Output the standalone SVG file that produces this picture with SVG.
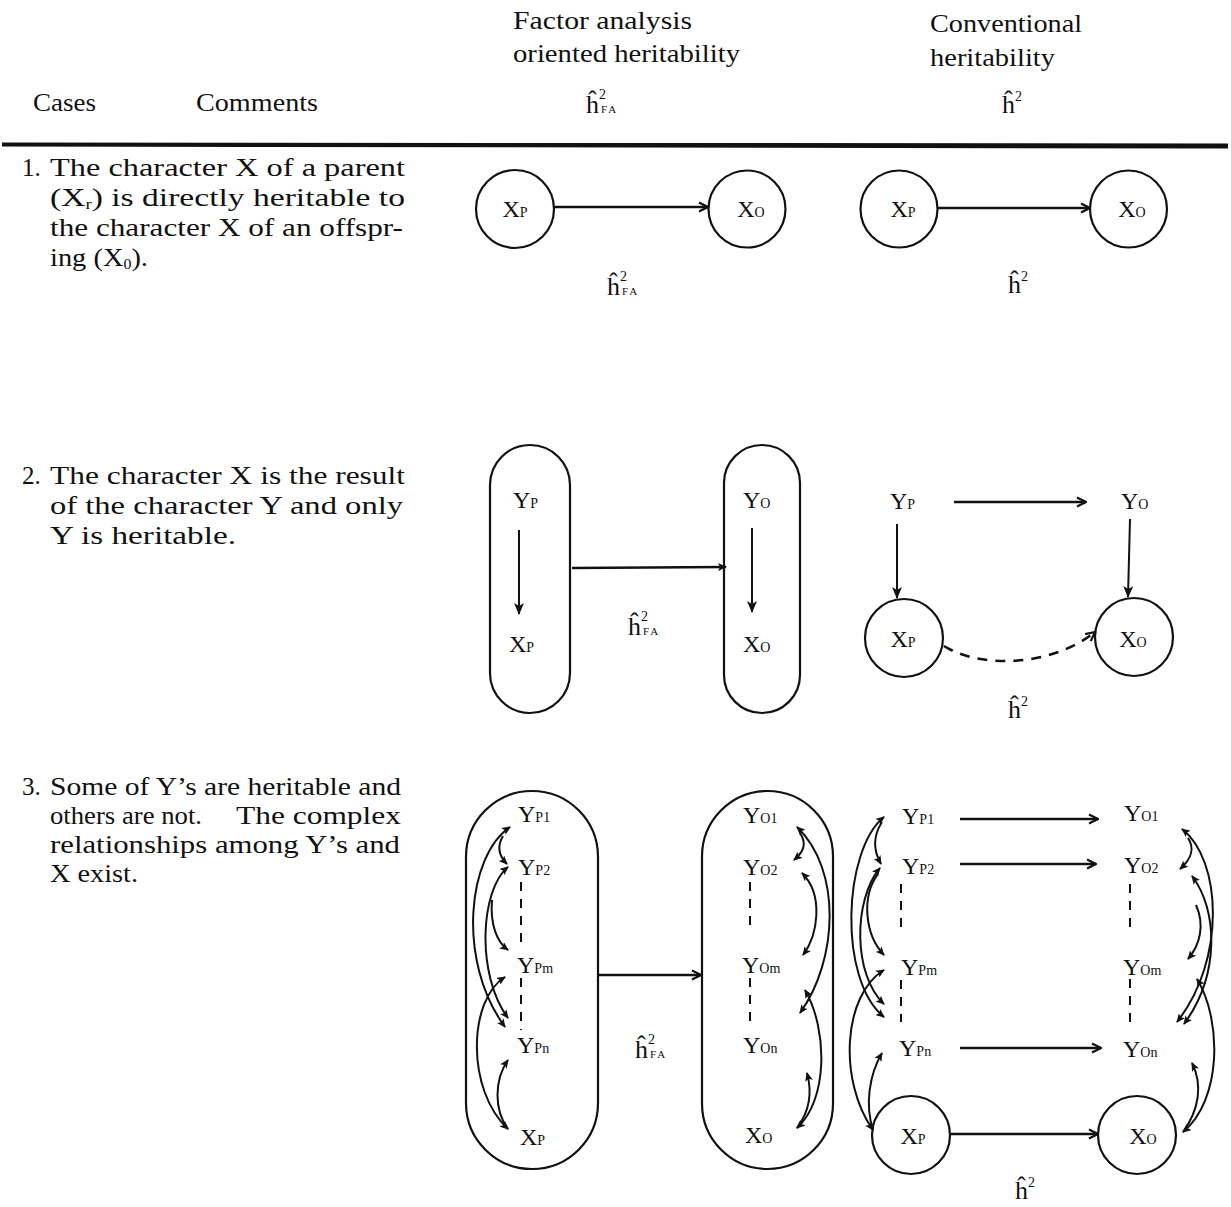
<svg xmlns="http://www.w3.org/2000/svg" width="1231" height="1207" viewBox="0 0 1231 1207">
<style>
.t{font-family:"Liberation Serif","Times New Roman",serif;fill:#111}
.hd{font-size:26px}
.cm{font-size:25px}
.nd{font-size:24px}
.sb{font-size:14px}
.h{font-size:26px}
.s2{font-size:14px}
.fa{font-size:11px;letter-spacing:2px}
.ln{stroke:#111;stroke-width:2.4;fill:none}
.cv{stroke:#111;stroke-width:2;fill:none}
.dl{stroke:#111;stroke-width:2;fill:none;stroke-dasharray:9 8}
.dc{stroke:#111;stroke-width:2.6;fill:none;stroke-dasharray:10 8}
.shape{fill:none;stroke:#111;stroke-width:2.2}
</style>
<defs>
<marker id="open" viewBox="0 0 12 12" refX="11" refY="6" markerWidth="12" markerHeight="12" markerUnits="userSpaceOnUse" orient="auto"><path d="M2,1.5 L11,6 L2,10.5" fill="none" stroke="#111" stroke-width="2.2"/></marker>
<marker id="fill" viewBox="0 0 12 12" refX="11" refY="6" markerWidth="12" markerHeight="12" markerUnits="userSpaceOnUse" orient="auto"><path d="M0,1 L12,6 L0,11 L3,6 z" fill="#111"/></marker>
<marker id="sm" viewBox="0 0 9 8" refX="8" refY="4" markerWidth="9" markerHeight="8" markerUnits="userSpaceOnUse" orient="auto-start-reverse"><path d="M0,0 L9,4 L0,8 L2,4 z" fill="#111"/></marker>
</defs>
<rect width="1231" height="1207" fill="#fff"/>

<g id="header" class="t">
<text class="hd" x="513" y="29" textLength="179" lengthAdjust="spacingAndGlyphs">Factor analysis</text>
<text class="hd" x="513" y="62" textLength="227" lengthAdjust="spacingAndGlyphs">oriented heritability</text>
<text class="hd" x="930" y="32" textLength="152" lengthAdjust="spacingAndGlyphs">Conventional</text>
<text class="hd" x="930" y="66" textLength="125" lengthAdjust="spacingAndGlyphs">heritability</text>
<text class="hd" x="33" y="111" textLength="63" lengthAdjust="spacingAndGlyphs">Cases</text>
<text class="hd" x="196" y="111" textLength="122" lengthAdjust="spacingAndGlyphs">Comments</text>
<text x="586" y="113"><tspan class="h">ĥ</tspan><tspan class="s2" dy="-14">2</tspan><tspan class="fa" x="601" dy="14">FA</tspan></text>
<text x="1002" y="113"><tspan class="h">ĥ</tspan><tspan class="s2" dy="-12">2</tspan></text>
</g>
<polygon points="2,142.5 1228,143.5 1228,148.5 2,146.5" fill="#111"/>

<g id="comments" class="t cm">
<text x="22" y="176">1.</text>
<text x="50" y="176" textLength="355" lengthAdjust="spacingAndGlyphs">The character X of a parent</text>
<text x="50" y="206" textLength="355" lengthAdjust="spacingAndGlyphs">(X<tspan class="sb" dy="3">r</tspan><tspan dy="-3">) is directly heritable to</tspan></text>
<text x="50" y="236" textLength="353" lengthAdjust="spacingAndGlyphs">the character X of an offspr-</text>
<text x="50" y="266" textLength="98" lengthAdjust="spacingAndGlyphs">ing (X<tspan class="sb" dy="3">0</tspan><tspan dy="-3">).</tspan></text>

<text x="22" y="484">2.</text>
<text x="50" y="484" textLength="355" lengthAdjust="spacingAndGlyphs">The character X is the result</text>
<text x="50" y="514" textLength="353" lengthAdjust="spacingAndGlyphs">of the character Y and only</text>
<text x="50" y="544" textLength="186" lengthAdjust="spacingAndGlyphs">Y is heritable.</text>

<text x="22" y="795">3.</text>
<text x="50" y="795" textLength="351" lengthAdjust="spacingAndGlyphs">Some of Y’s are heritable and</text>
<text x="50" y="824" textLength="152" lengthAdjust="spacingAndGlyphs">others are not.</text>
<text x="236" y="824" textLength="165" lengthAdjust="spacingAndGlyphs">The complex</text>
<text x="50" y="853" textLength="350" lengthAdjust="spacingAndGlyphs">relationships among Y’s and</text>
<text x="50" y="882" textLength="88" lengthAdjust="spacingAndGlyphs">X exist.</text>
</g>

<!-- Case 1 -->
<g id="c1-fa-xp"><circle class="shape" cx="515" cy="209" r="39"/><text class="t nd" x="515" y="217" text-anchor="middle">X<tspan class="sb">P</tspan></text></g>
<g id="c1-fa-xo"><circle class="shape" cx="747" cy="209" r="38.5"/><text class="t nd" x="751" y="217" text-anchor="middle">X<tspan class="sb">O</tspan></text></g>
<g id="c1-c-xp"><circle class="shape" cx="899" cy="209" r="38.5"/><text class="t nd" x="903" y="217" text-anchor="middle">X<tspan class="sb">P</tspan></text></g>
<g id="c1-c-xo"><circle class="shape" cx="1128.5" cy="209" r="38.5"/><text class="t nd" x="1132" y="217" text-anchor="middle">X<tspan class="sb">O</tspan></text></g>
<g id="c1-labels" class="t">
<text x="607" y="295"><tspan class="h">ĥ</tspan><tspan class="s2" dy="-14">2</tspan><tspan class="fa" x="622" dy="14">FA</tspan></text>
<text x="1008" y="293"><tspan class="h">ĥ</tspan><tspan class="s2" dy="-12">2</tspan></text>
</g>

<!-- Case 2 -->
<g id="c2-fa-parent"><rect class="shape" x="490" y="445" width="80" height="268" rx="40"/>
<text class="t nd" x="513" y="508">Y<tspan class="sb">P</tspan></text>
<text class="t nd" x="509" y="652">X<tspan class="sb">P</tspan></text></g>
<g id="c2-fa-offspring"><rect class="shape" x="724" y="445" width="76" height="268" rx="38"/>
<text class="t nd" x="743" y="508">Y<tspan class="sb">O</tspan></text>
<text class="t nd" x="743" y="652">X<tspan class="sb">O</tspan></text></g>
<g id="c2-c-yp"><text class="t nd" x="890" y="509">Y<tspan class="sb">P</tspan></text></g>
<g id="c2-c-yo"><text class="t nd" x="1121" y="509">Y<tspan class="sb">O</tspan></text></g>
<g id="c2-c-xp"><circle class="shape" cx="904" cy="638" r="39"/><text class="t nd" x="903" y="647" text-anchor="middle">X<tspan class="sb">P</tspan></text></g>
<g id="c2-c-xo"><circle class="shape" cx="1134" cy="637" r="39"/><text class="t nd" x="1133" y="647" text-anchor="middle">X<tspan class="sb">O</tspan></text></g>
<g id="c2-labels" class="t">
<text x="628" y="635"><tspan class="h">ĥ</tspan><tspan class="s2" dy="-14">2</tspan><tspan class="fa" x="643" dy="14">FA</tspan></text>
<text x="1008" y="718"><tspan class="h">ĥ</tspan><tspan class="s2" dy="-12">2</tspan></text>
</g>

<!-- Case 3 -->
<g id="c3-fa-parent"><rect class="shape" x="466" y="791" width="132" height="378" rx="66"/>
<text class="t nd" x="518" y="822">Y<tspan class="sb">P1</tspan></text>
<text class="t nd" x="518" y="875">Y<tspan class="sb">P2</tspan></text>
<text class="t nd" x="517" y="973">Y<tspan class="sb">Pm</tspan></text>
<text class="t nd" x="517" y="1053">Y<tspan class="sb">Pn</tspan></text>
<text class="t nd" x="520" y="1145">X<tspan class="sb">P</tspan></text></g>
<g id="c3-fa-offspring"><rect class="shape" x="702" y="791" width="131" height="378" rx="65.5"/>
<text class="t nd" x="743" y="823">Y<tspan class="sb">O1</tspan></text>
<text class="t nd" x="743" y="875">Y<tspan class="sb">O2</tspan></text>
<text class="t nd" x="742" y="973">Y<tspan class="sb">Om</tspan></text>
<text class="t nd" x="743" y="1053">Y<tspan class="sb">On</tspan></text>
<text class="t nd" x="745" y="1143">X<tspan class="sb">O</tspan></text></g>
<g id="c3-c-yp1"><text class="t nd" x="902" y="824">Y<tspan class="sb">P1</tspan></text></g>
<g id="c3-c-yp2"><text class="t nd" x="902" y="874">Y<tspan class="sb">P2</tspan></text></g>
<g id="c3-c-ypm"><text class="t nd" x="901" y="975">Y<tspan class="sb">Pm</tspan></text></g>
<g id="c3-c-ypn"><text class="t nd" x="899" y="1056">Y<tspan class="sb">Pn</tspan></text></g>
<g id="c3-c-xp"><circle class="shape" cx="911" cy="1135" r="39"/><text class="t nd" x="913" y="1144" text-anchor="middle">X<tspan class="sb">P</tspan></text></g>
<g id="c3-c-yo1"><text class="t nd" x="1124" y="821">Y<tspan class="sb">O1</tspan></text></g>
<g id="c3-c-yo2"><text class="t nd" x="1124" y="873">Y<tspan class="sb">O2</tspan></text></g>
<g id="c3-c-yom"><text class="t nd" x="1123" y="975">Y<tspan class="sb">Om</tspan></text></g>
<g id="c3-c-yon"><text class="t nd" x="1123" y="1057">Y<tspan class="sb">On</tspan></text></g>
<g id="c3-c-xo"><circle class="shape" cx="1137" cy="1135" r="39"/><text class="t nd" x="1143" y="1144" text-anchor="middle">X<tspan class="sb">O</tspan></text></g>
<g id="c3-labels" class="t">
<text x="635" y="1058"><tspan class="h">ĥ</tspan><tspan class="s2" dy="-14">2</tspan><tspan class="fa" x="650" dy="14">FA</tspan></text>
<text x="1015" y="1199"><tspan class="h">ĥ</tspan><tspan class="s2" dy="-12">2</tspan></text>
</g>

<g id="connectors">
<!-- case 1 -->
<line class="ln" x1="554" y1="207" x2="708" y2="207" marker-end="url(#open)"/>
<line class="ln" x1="938" y1="208" x2="1090" y2="208" marker-end="url(#open)"/>
<!-- case 2 FA -->
<line class="cv" x1="519" y1="530" x2="519" y2="614" marker-end="url(#fill)"/>
<line class="cv" x1="752" y1="528" x2="752" y2="612" marker-end="url(#fill)"/>
<line class="ln" x1="572" y1="568" x2="726" y2="567" marker-end="url(#sm)"/>
<!-- case 2 conventional -->
<line class="ln" x1="954" y1="502" x2="1086" y2="502" marker-end="url(#open)"/>
<line class="cv" x1="897" y1="524" x2="897" y2="598" marker-end="url(#fill)"/>
<line class="cv" x1="1130" y1="519" x2="1128" y2="597" marker-end="url(#fill)"/>
<path class="dc" d="M944,646 C978,668 1050,668 1095,632" marker-end="url(#open)"/>
<!-- case 3 FA -->
<line class="dl" x1="521" y1="882" x2="521" y2="950"/>
<line class="dl" x1="521" y1="978" x2="521" y2="1030"/>
<line class="dl" x1="750" y1="882" x2="750" y2="930"/>
<line class="dl" x1="750" y1="978" x2="750" y2="1023"/>
<line class="ln" x1="598" y1="975" x2="701" y2="975" marker-end="url(#open)"/>
<path class="cv" d="M510,827 C468,855 456,960 505,1027" marker-start="url(#sm)" marker-end="url(#sm)"/>
<path class="cv" d="M508,867 C480,890 476,975 508,1018" marker-start="url(#sm)" marker-end="url(#sm)"/>
<path class="cv" d="M503,836 C497,846 499,856 507,864" marker-end="url(#sm)"/>
<path class="cv" d="M492,900 C490,925 497,942 508,950" marker-end="url(#sm)"/>
<path class="cv" d="M505,977 C468,1000 466,1090 508,1129" marker-start="url(#sm)" marker-end="url(#sm)"/>
<path class="cv" d="M508,1060 C494,1080 494,1110 508,1129" marker-start="url(#sm)"/>
<path class="cv" d="M797,827 C842,870 838,960 800,1013" marker-start="url(#sm)" marker-end="url(#sm)"/>
<path class="cv" d="M800,833 C808,845 802,853 794,860" marker-end="url(#sm)"/>
<path class="cv" d="M802,873 C824,895 818,935 803,955" marker-start="url(#sm)" marker-end="url(#sm)"/>
<path class="cv" d="M805,990 C828,1030 828,1100 797,1128" marker-start="url(#sm)" marker-end="url(#sm)"/>
<path class="cv" d="M807,1073 C813,1095 809,1112 797,1128" marker-start="url(#sm)"/>
<!-- case 3 conventional -->
<line class="dl" x1="901" y1="884" x2="901" y2="932"/>
<line class="dl" x1="901" y1="980" x2="901" y2="1022"/>
<line class="dl" x1="1130" y1="884" x2="1130" y2="928"/>
<line class="dl" x1="1130" y1="979" x2="1130" y2="1022"/>
<line class="ln" x1="960" y1="819" x2="1098" y2="819" marker-end="url(#open)"/>
<line class="ln" x1="960" y1="864" x2="1096" y2="864" marker-end="url(#open)"/>
<line class="ln" x1="960" y1="1048" x2="1101" y2="1048" marker-end="url(#open)"/>
<line class="ln" x1="951" y1="1134" x2="1098" y2="1134" marker-end="url(#open)"/>
<path class="cv" d="M884,817 C843,850 838,980 884,1017" marker-start="url(#sm)" marker-end="url(#sm)"/>
<path class="cv" d="M880,868 C853,900 853,975 884,1004" marker-start="url(#sm)" marker-end="url(#sm)"/>
<path class="cv" d="M882,822 C873,836 873,850 881,864" marker-end="url(#sm)"/>
<path class="cv" d="M878,874 C861,897 865,935 884,955" marker-end="url(#sm)"/>
<path class="cv" d="M884,970 C843,995 838,1080 873,1130" marker-start="url(#sm)" marker-end="url(#sm)"/>
<path class="cv" d="M882,1053 C869,1075 865,1105 873,1130" marker-start="url(#sm)"/>
<path class="cv" d="M1182,829 C1222,860 1226,960 1177,1022" marker-start="url(#sm)" marker-end="url(#sm)"/>
<path class="cv" d="M1192,876 C1218,910 1220,975 1184,1024" marker-start="url(#sm)" marker-end="url(#sm)"/>
<path class="cv" d="M1188,838 C1196,850 1190,860 1180,869" marker-end="url(#sm)"/>
<path class="cv" d="M1196,905 C1205,925 1200,945 1188,959" marker-end="url(#sm)"/>
<path class="cv" d="M1197,979 C1222,1020 1222,1100 1183,1132" marker-start="url(#sm)" marker-end="url(#sm)"/>
<path class="cv" d="M1192,1063 C1203,1085 1199,1110 1183,1132" marker-start="url(#sm)"/>
</g>
</svg>
